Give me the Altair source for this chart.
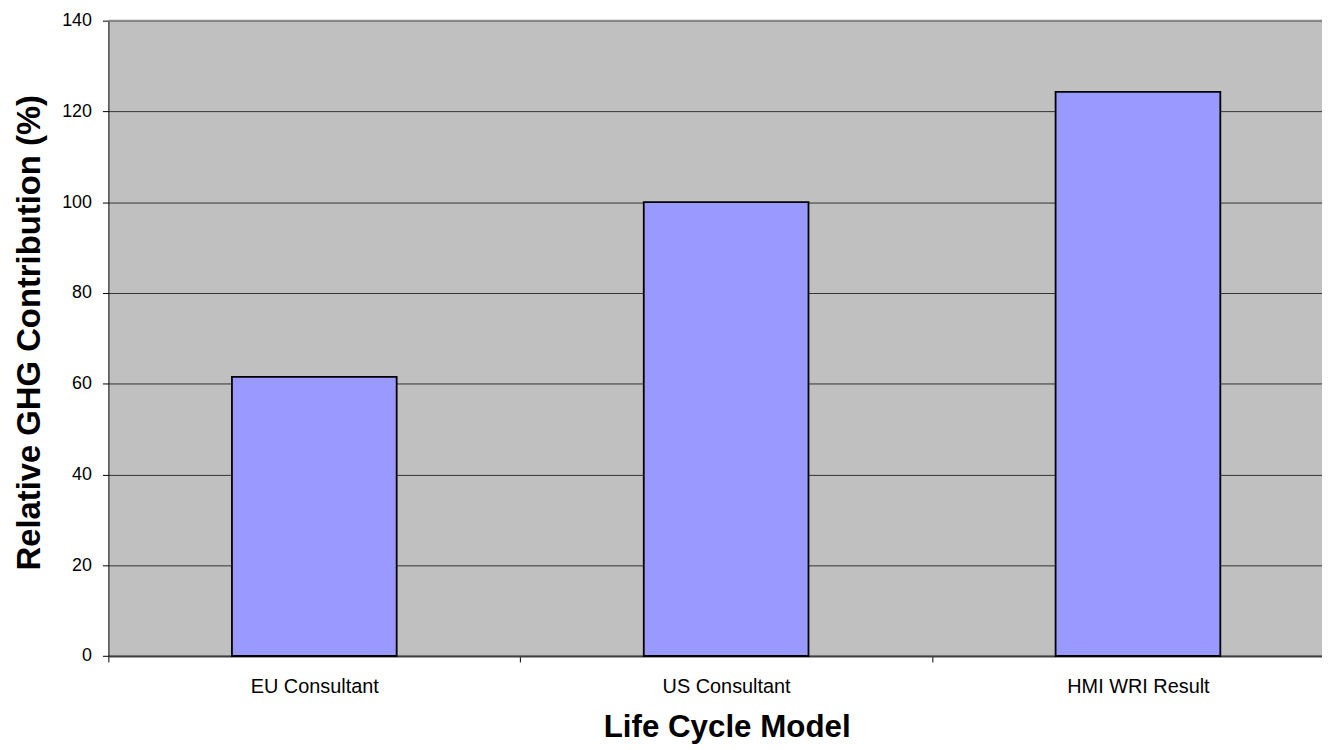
import altair as alt
import pandas as pd

categories = ["EU Consultant", "US Consultant", "HMI WRI Result"]
values = [61.5, 100.0, 124.3]
y_ticks = [0, 20, 40, 60, 80, 100, 120, 140]
top_value = [140]

FONT = "Liberation Sans"

df = pd.DataFrame({"model": categories, "value": values})

x_enc = alt.X(
    "model:N",
    sort=categories,
    title="Life Cycle Model",
    scale=alt.Scale(range=[0, 1243], paddingInner=0, paddingOuter=0),
    axis=alt.Axis(
        labelAngle=0, labelFontSize=20, labelColor="black", labelFont=FONT,
        labelBaseline="alphabetic", labelPadding=30.6,
        tickBand="extent", tickSize=6, tickColor="#000000", tickWidth=1,
        domainColor="#404040", domainWidth=2, grid=False,
        titleFont=FONT, titleFontSize=31.5, titleFontWeight="bold", titleColor="black",
        titleX=622, titleY=81, titleBaseline="alphabetic", titleAlign="center",
    ),
)

y_enc = alt.Y(
    "value:Q",
    title="Relative GHG Contribution (%)",
    scale=alt.Scale(domain=[0, 140], nice=False),
    axis=alt.Axis(
        values=y_ticks, labelFontSize=18, labelColor="black", labelFont=FONT,
        labelPadding=11, tickSize=6, tickColor="#000000", tickWidth=1,
        domainColor="#000000", domainWidth=1,
        grid=True, gridColor="#333333", gridWidth=1,
        titleFont=FONT, titleFontSize=33, titleFontWeight="bold", titleColor="black",
        titleX=-69, titleY=313.5, titleAngle=270, titleBaseline="alphabetic", titleAlign="center",
    ),
)

bars = alt.Chart(df).mark_bar(
    width=alt.RelativeBandSize(0.4), fill="#9999FF", stroke="black", strokeWidth=1.8
).encode(x=x_enc, y=y_enc)

top_rule = alt.Chart(pd.DataFrame({"top": top_value})).mark_rule(
    color="#8c8c8c", strokeWidth=2
).encode(y=alt.Y("top:Q", title="Relative GHG Contribution (%)"))

chart = alt.layer(bars, top_rule).properties(
    width=1221,
    height=639.2,
    autosize=alt.AutoSizeParams(type="none"),
    padding={"left": 101, "top": 10.5, "right": 0, "bottom": 90},
    background="white",
).configure_view(fill="#C0C0C0", stroke="transparent")

chart.save("out.html", embed_options={"renderer": "svg", "actions": False})
